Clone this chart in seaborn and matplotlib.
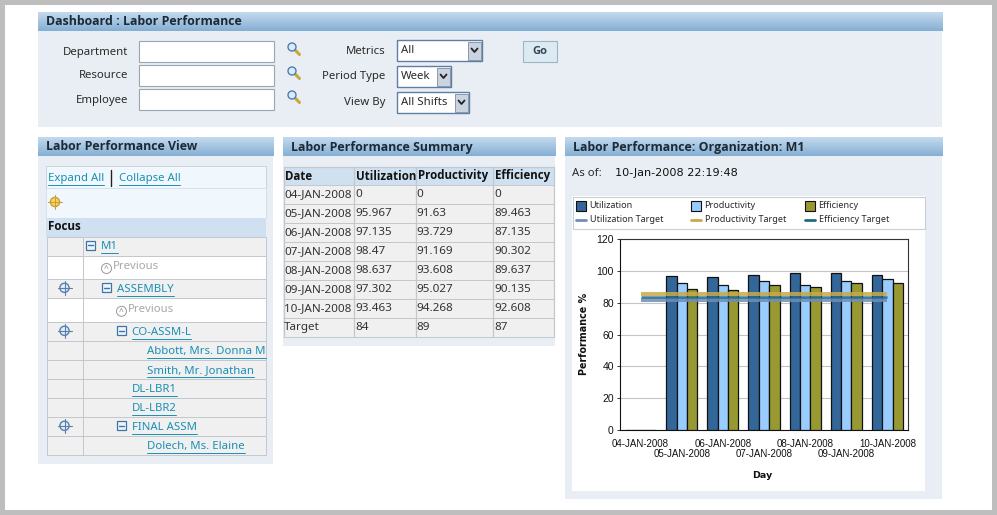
import numpy as np
import pandas as pd
import matplotlib
matplotlib.use("Agg")
import matplotlib.pyplot as plt
from matplotlib.patches import Rectangle, Circle
import seaborn as sns

# ---- data -------------------------------------------------------------
days = ["04-JAN-2008", "05-JAN-2008", "06-JAN-2008", "07-JAN-2008",
        "08-JAN-2008", "09-JAN-2008", "10-JAN-2008"]
utilization = [0, 97, 96, 97.3, 98.7, 98.6, 97.3]
productivity = [0, 92.5, 91.5, 93.5, 91, 93.6, 95]
efficiency = [0, 89, 88, 91, 90, 92.5, 92.5]
util_target = [82] * 7
prod_target = [85.5] * 7
eff_target = [83.8] * 7
series_names = ["Utilization", "Productivity", "Efficiency"]
target_names = ["Utilization Target", "Productivity Target", "Efficiency Target"]
yticks = [0, 20, 40, 60, 80, 100, 120]

table_head = ["Date", "Utilization", "Productivity", "Efficiency"]
table_rows = [
    ["04-JAN-2008", "0", "0", "0"],
    ["05-JAN-2008", "95.967", "91.63", "89.463"],
    ["06-JAN-2008", "97.135", "93.729", "87.135"],
    ["07-JAN-2008", "98.47", "91.169", "90.302"],
    ["08-JAN-2008", "98.637", "93.608", "89.637"],
    ["09-JAN-2008", "97.302", "95.027", "90.135"],
    ["10-JAN-2008", "93.463", "94.268", "92.608"],
    ["Target", "84", "89", "87"],
]
tree_labels = ["M1", "Previous", "ASSEMBLY", "Previous", "CO-ASSM-L",
               "Abbott, Mrs. Donna M", "Smith, Mr. Jonathan", "DL-LBR1",
               "DL-LBR2", "FINAL ASSM", "Dolech, Ms. Elaine"]

# ---- styles -----------------------------------------------------------
sns.set_theme(style="white")
FONT = ["Noto Sans", "DejaVu Sans"]
BOLD = "Open Sans"
plt.rcParams["font.family"] = FONT
W, H = 997, 515
C_UTIL, C_PROD, C_EFF = "#336699", "#99CCFF", "#999933"
C_T_UTIL, C_T_PROD, C_T_EFF = "#6F8DB5", "#C9A94A", "#1F6A8A"
PANEL = "#E9EEF4"
LINK = "#1A8FB5"
LINE = "#C3C8CE"
DARK = "#2A2A2A"
FS = 8.2

fig = plt.figure(figsize=(W / 100, H / 100), dpi=100, facecolor="#BEBEBE")
ui = fig.add_axes([0, 0, 1, 1], zorder=0)
ui.set_xlim(0, W)
ui.set_ylim(H, 0)
ui.axis("off")


def rect(x0, y0, x1, y1, fc, ec="none", lw=0.8, z=1):
    ui.add_patch(Rectangle((x0, y0), x1 - x0, y1 - y0, fc=fc, ec=ec, lw=lw, zorder=z))


def text(x, y, s, color=DARK, size=FS, ha="left", weight="normal", z=5, family=None):
    return ui.text(x, y, s, color=color, fontsize=size, ha=ha, va="center",
                   fontweight=weight, zorder=z, family=family or FONT)


def gradient(x0, y0, x1, y1, top, bottom):
    ramp = np.linspace(0, 1, 32)[:, None]
    cmap = matplotlib.colors.LinearSegmentedColormap.from_list("g", [top, bottom])
    ui.imshow(ramp, extent=(x0, x1, y1, y0), aspect="auto", cmap=cmap, zorder=2)


def panel(x0, y0, x1, y1, title, band_top):
    rect(x0, y0, x1, y1, PANEL)
    gradient(x0, band_top, x1, band_top + 19, "#C3DAEE", "#86AFD4")
    text(x0 + 8, band_top + 9.5, title, color="#1C2A36", size=8.9, weight="bold", family=BOLD)


def link(x, y, s, size=FS):
    t = text(x, y + 0.5, s, color=LINK, size=size)
    r = fig.canvas.get_renderer()
    bb = t.get_window_extent(r)
    ui.plot([x, x + bb.width], [y + 6.7, y + 6.7], color=LINK, lw=0.7, zorder=5)


def magnifier(x, y):
    ui.plot([x + 2, x + 7.5], [y + 2, y + 7.5], color="#C9A83A", lw=2.2, zorder=6)
    ui.add_patch(Circle((x, y), 4, fc="#DDEBF7", ec="#4A7FB0", lw=1, zorder=7))


def field(x0, y0, x1, y1):
    rect(x0, y0, x1, y1, "white", ec="#9AA5B0", lw=0.8, z=3)


def select(x0, y0, x1, y1, s):
    rect(x0, y0, x1, y1, "white", ec="#5E7FA5", lw=1, z=3)
    rect(x1 - 14, y0 + 1.5, x1 - 1, y1 - 1.5, "#CBD3E0", ec="#7F8CA0", lw=0.6, z=4)
    ui.plot([x1 - 10.5, x1 - 7.5, x1 - 4.5], [y0 + 8.5, y0 + 12, y0 + 8.5],
            color="#222222", lw=1.3, zorder=5)
    text(x0 + 4, (y0 + y1) / 2, s)


def focus_icon(x, y, color="#5A7FAE"):
    ui.add_patch(Circle((x, y), 4.6, fc="#E4EDF6", ec=color, lw=1, zorder=6))
    ui.plot([x - 7, x + 7], [y, y], color=color, lw=0.8, zorder=7)
    ui.plot([x, x], [y - 7, y + 7], color=color, lw=0.8, zorder=7)


def minus_box(x, y):
    rect(x - 4.5, y - 4.5, x + 4.5, y + 4.5, "#EEF4FA", ec="#3F74A8", lw=0.9, z=6)
    ui.plot([x - 2.5, x + 2.5], [y, y], color="#3F74A8", lw=1, zorder=7)


# ---- page -------------------------------------------------------------
rect(5, 5, 992, 510, "white", z=0.5)

panel(38, 12, 942, 127, "Dashboard : Labor Performance", 12)
for lab, y, fy in [("Department", 52, 41), ("Resource", 76, 65), ("Employee", 100, 89)]:
    text(128, y, lab, ha="right")
    field(139, fy, 274, fy + 21)
    magnifier(292, fy + 6)
for lab, y in [("Metrics", 51), ("Period Type", 77), ("View By", 103)]:
    text(385, y, lab, ha="right")
select(397, 40, 482, 61, "All")
select(397, 66, 451, 87, "Week")
select(397, 92, 469, 113, "All Shifts")
rect(523, 41, 557, 62, "#DCEBF2", ec="#9FB4C4", lw=0.8, z=3)
text(540, 51.5, "Go", ha="center", color="#33465A", size=8, weight="bold", family=BOLD)

# left panel: tree
panel(38, 137.5, 273, 464, "Labor Performance View", 137.5)
rect(46, 166, 265.5, 187.5, "#F1F8FD", ec="#C8D2DC", lw=0.7, z=3)
rect(46, 187.5, 265.5, 217.5, "#F1F8FD", ec="#D4E0EA", lw=0.7, z=3)
link(48, 178, "Expand All")
ui.plot([111, 111], [170, 186], color="#222222", lw=1, zorder=5)
link(118.5, 178, "Collapse All")
focus_icon(55, 202, color="#C9A132")
ui.patches[-1].set_facecolor("#F5D66B")
rect(46, 217.5, 265.5, 236.7, "#CFE0F0", z=3)
text(47.5, 227, "Focus", color="#111111", size=8.4, weight="bold", family=BOLD)
tree_edges = [236.7, 255.7, 279.3, 298.3, 322.3, 341.3, 360.3, 379.3, 398.3, 417.3, 436.3, 455.3]
tree_x = [101, 115, 117, 130, 131.5, 147, 147, 131.5, 131.5, 131.5, 147]
tree_minus = {0: 90, 2: 106, 4: 121, 9: 121}
tree_focus = {2, 4, 9}
for i, lab in enumerate(tree_labels):
    y0, y1 = tree_edges[i], tree_edges[i + 1]
    ym = (y0 + y1) / 2
    plain = lab == "Previous"
    rect(46.5, y0, 82.7, y1, "white" if plain else "#F0F0F0", ec=LINE, lw=0.7, z=3)
    rect(82.7, y0, 265.5, y1, "white" if plain else "#F0F0F0", ec=LINE, lw=0.7, z=3)
    if plain:
        ui.add_patch(Circle((tree_x[i] - 8.5, ym + 1), 5, fc="white", ec="#999999", lw=0.7, zorder=6))
        text(tree_x[i] - 8.5, ym + 1, "^", ha="center", size=6, color="#888888", z=7)
        text(tree_x[i] - 2.5, ym - 1, lab, color="#A8A8A8")
    else:
        link(tree_x[i], ym, lab)
    if i in tree_minus:
        minus_box(tree_minus[i], ym - 1)
    if i in tree_focus:
        focus_icon(64.5, ym - 1)

# middle panel: summary table
panel(283, 137.5, 555, 346, "Labor Performance Summary", 137.5)
cols = [283.5, 354.3, 416, 493.3, 554]
head_top, head_bot, row_h = 166.7, 185.3, 19
rect(cols[0], head_top, cols[-1], head_bot, "#CFE0F0", z=3)
for j, h in enumerate(table_head):
    text(cols[j] + 1.5, (head_top + head_bot) / 2, h, color="#111111", size=8.3, weight="bold", family=BOLD)
for i, row in enumerate(table_rows):
    y0 = head_bot + i * row_h
    rect(cols[0], y0, cols[-1], y0 + row_h, "#F0F0F0", ec=LINE, lw=0.7, z=3)
    for j, v in enumerate(row):
        text(cols[j] + 0.8, y0 + row_h / 2, v, color="#333333", size=8.4)
for c in cols:
    ui.plot([c, c], [head_top, head_bot + 8 * row_h], color=LINE, lw=0.9, zorder=4)
ui.plot([cols[0], cols[-1]], [head_top, head_top], color=LINE, lw=0.9, zorder=4)

# right panel
panel(565, 137.5, 942, 499, "Labor Performance: Organization: M1", 137.5)
text(572, 173, "As of:")
text(615, 173, "10-Jan-2008 22:19:48", color="#111111", size=8.1, family="DejaVu Sans")
rect(572, 196, 925, 491, "white", z=3)
rect(572.5, 196.5, 924.5, 229, "white", ec="#C8CED4", lw=0.8, z=4)

for x, lab, col, tcol, tlab in [(576, series_names[0], C_UTIL, C_T_UTIL, target_names[0]),
                                (691, series_names[1], C_PROD, C_T_PROD, target_names[1]),
                                (805, series_names[2], C_EFF, C_T_EFF, target_names[2])]:
    rect(x, 200.5, x + 10, 210.5, col, ec="#111111", lw=0.8, z=5)
    text(x + 13.5, 205.5, lab, size=6.5)
    ui.plot([x, x + 10], [219.5, 219.5], color=tcol, lw=2, zorder=5)
    text(x + 13.5, 219.5, tlab, size=6.5)

# ---- chart ------------------------------------------------------------
ax = fig.add_axes([620 / W, 1 - 430 / H, 288 / W, (430 - 239.3) / H], zorder=10)
long = pd.DataFrame({"Day": days * 3,
                     "Value": utilization + productivity + efficiency,
                     "Series": np.repeat(series_names, len(days))})
sns.barplot(data=long, x="Day", y="Value", hue="Series", hue_order=series_names,
            order=days, palette=[C_UTIL, C_PROD, C_EFF], width=0.76, gap=0,
            saturation=1, edgecolor="#111111", linewidth=0.9, legend=False, ax=ax, zorder=3)
pos = np.arange(len(days))
for vals, col, wd in [(util_target, C_T_UTIL, 2.9), (prod_target, C_T_PROD, 2.9),
                      (eff_target, C_T_EFF, 1.8)]:
    sns.lineplot(x=pos, y=vals, color=col, lw=wd, alpha=0.85, ax=ax, zorder=4,
                 legend=False, solid_capstyle="butt")
ax.set_xlim(-0.5, 6.5)
ax.set_ylim(0, 120)
ax.set_yticks(yticks)
ax.yaxis.grid(True, color="#C4C4C4", lw=0.8)
ax.set_axisbelow(True)
ax.set_xticks(pos)
ax.set_xticklabels(days, fontsize=7, color="#111111", family="Liberation Sans")
for i, t in enumerate(ax.get_xticklabels()):
    t.set_y(-0.049 if i % 2 == 0 else -0.099)
ax.tick_params(axis="x", length=0, pad=0)
ax.tick_params(axis="y", length=2.5, width=0.7, labelsize=7.5, labelcolor="#111111", pad=2, left=True, color="#333333")
for lab in ax.get_yticklabels():
    lab.set_family("Liberation Sans")
ax.set_xlabel("")
ax.set_ylabel("")
for side in ax.spines:
    ax.spines[side].set_visible(True)
    ax.spines[side].set_color("#333333")
    ax.spines[side].set_linewidth(0.8)
ax.spines["left"].set_color("#111111")
ax.spines["bottom"].set_color("#111111")
ax.patch.set_facecolor("white")

text(762, 476, "Day", size=6.8, weight="bold", ha="center", color="#111111", family="DejaVu Sans")
ui.text(584, 334, "Performance %", rotation=90, size=6.9, weight="bold", color="#111111",
        ha="center", va="center", zorder=5, family="DejaVu Sans")

fig.savefig("out.png", dpi=100, facecolor=fig.get_facecolor())
